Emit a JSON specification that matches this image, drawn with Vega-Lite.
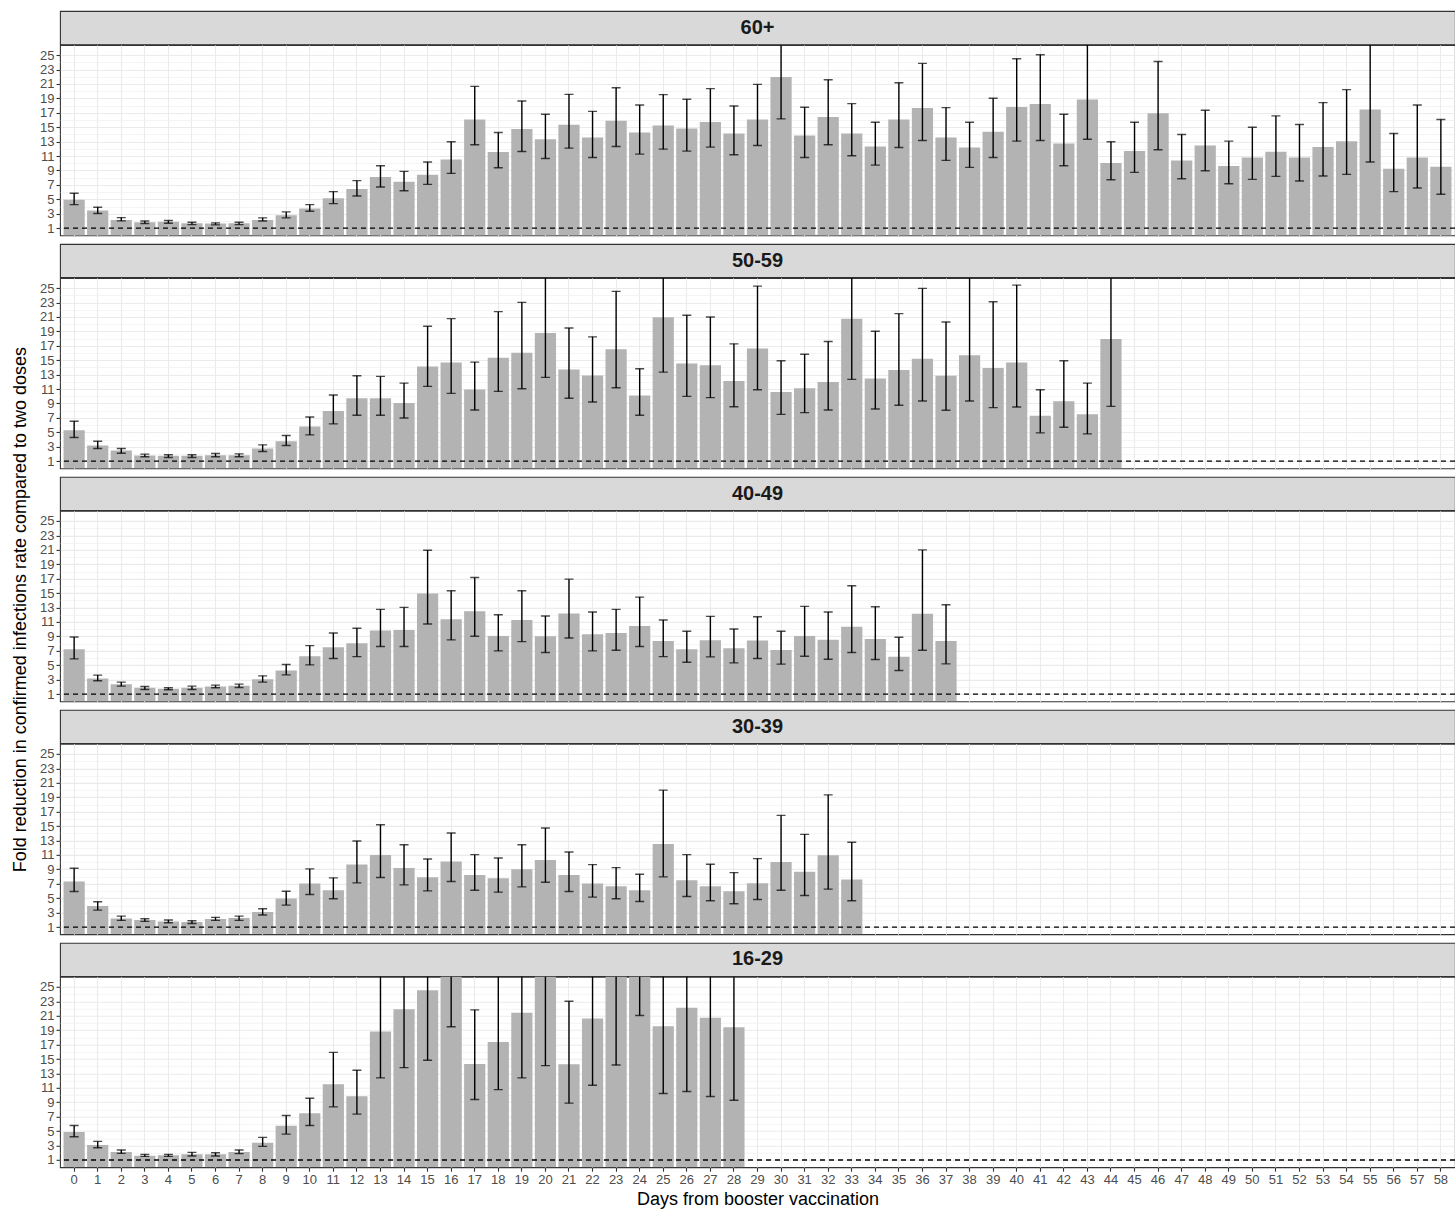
{
"$schema": "https://vega.github.io/schema/vega-lite/v6.json",
"padding": {"left": 11, "top": 10, "right": 0, "bottom": 0},
"spacing": 6.95,
"title": {"text": "Fold reduction in confirmed infections rate compared to two doses", "orient": "left", "anchor": "middle", "fontSize": 18, "fontWeight": "normal", "color": "black", "font": "Liberation Sans", "offset": 9},
"datasets": {
"panels": [{"g":"60+"},{"g":"50-59"},{"g":"40-49"},{"g":"30-39"},{"g":"16-29"}],
"bars": [
{"g":"60+","d":0,"v":4.95,"lo":4.27,"hi":5.84},{"g":"60+","d":1,"v":3.44,"lo":3.03,"hi":3.9},{"g":"60+","d":2,"v":2.15,"lo":2.01,"hi":2.47},{"g":"60+","d":3,"v":1.83,"lo":1.64,"hi":2.0},{"g":"60+","d":4,"v":1.88,"lo":1.69,"hi":2.06},{"g":"60+","d":5,"v":1.69,"lo":1.5,"hi":1.83},{"g":"60+","d":6,"v":1.64,"lo":1.46,"hi":1.74},{"g":"60+","d":7,"v":1.69,"lo":1.5,"hi":1.83},{"g":"60+","d":8,"v":2.15,"lo":2.0,"hi":2.43},{"g":"60+","d":9,"v":2.8,"lo":2.43,"hi":3.26},{"g":"60+","d":10,"v":3.72,"lo":3.35,"hi":4.27},{"g":"60+","d":11,"v":5.15,"lo":4.41,"hi":6.07},{"g":"60+","d":12,"v":6.44,"lo":5.47,"hi":7.59},{"g":"60+","d":13,"v":8.09,"lo":6.71,"hi":9.66},{"g":"60+","d":14,"v":7.45,"lo":6.2,"hi":8.88},{"g":"60+","d":15,"v":8.42,"lo":7.08,"hi":10.17},{"g":"60+","d":16,"v":10.53,"lo":8.6,"hi":12.98},{"g":"60+","d":17,"v":16.06,"lo":12.56,"hi":20.67},{"g":"60+","d":18,"v":11.55,"lo":9.38,"hi":14.27},{"g":"60+","d":19,"v":14.77,"lo":11.64,"hi":18.64},{"g":"60+","d":20,"v":13.34,"lo":10.67,"hi":16.8},{"g":"60+","d":21,"v":15.33,"lo":12.1,"hi":19.56},{"g":"60+","d":22,"v":13.57,"lo":10.81,"hi":17.2},{"g":"60+","d":23,"v":15.88,"lo":12.33,"hi":20.48},{"g":"60+","d":24,"v":14.27,"lo":11.27,"hi":18.09},{"g":"60+","d":25,"v":15.23,"lo":11.96,"hi":19.52},{"g":"60+","d":26,"v":14.82,"lo":11.69,"hi":18.87},{"g":"60+","d":27,"v":15.74,"lo":12.24,"hi":20.35},{"g":"60+","d":28,"v":14.13,"lo":11.18,"hi":17.95},{"g":"60+","d":29,"v":16.06,"lo":12.47,"hi":20.94},{"g":"60+","d":30,"v":21.96,"lo":16.15,"hi":29.9},{"g":"60+","d":31,"v":13.85,"lo":10.81,"hi":17.77},{"g":"60+","d":32,"v":16.43,"lo":12.56,"hi":21.59},{"g":"60+","d":33,"v":14.13,"lo":11.04,"hi":18.27},{"g":"60+","d":34,"v":12.33,"lo":9.75,"hi":15.69},{"g":"60+","d":35,"v":16.06,"lo":12.19,"hi":21.17},{"g":"60+","d":36,"v":17.67,"lo":13.16,"hi":23.85},{"g":"60+","d":37,"v":13.57,"lo":10.4,"hi":17.72},{"g":"60+","d":38,"v":12.19,"lo":9.43,"hi":15.69},{"g":"60+","d":39,"v":14.36,"lo":10.81,"hi":19.01},{"g":"60+","d":40,"v":17.81,"lo":13.07,"hi":24.49},{"g":"60+","d":41,"v":18.23,"lo":13.16,"hi":25.04},{"g":"60+","d":42,"v":12.75,"lo":9.66,"hi":16.8},{"g":"60+","d":43,"v":18.83,"lo":13.34,"hi":27.5},{"g":"60+","d":44,"v":10.03,"lo":7.72,"hi":12.98},{"g":"60+","d":45,"v":11.69,"lo":8.74,"hi":15.69},{"g":"60+","d":46,"v":16.94,"lo":11.87,"hi":24.12},{"g":"60+","d":47,"v":10.4,"lo":7.86,"hi":13.99},{"g":"60+","d":48,"v":12.47,"lo":8.97,"hi":17.35},{"g":"60+","d":49,"v":9.61,"lo":7.17,"hi":13.07},{"g":"60+","d":50,"v":10.81,"lo":7.77,"hi":15.0},{"g":"60+","d":51,"v":11.59,"lo":8.19,"hi":16.57},{"g":"60+","d":52,"v":10.81,"lo":7.54,"hi":15.37},{"g":"60+","d":53,"v":12.24,"lo":8.23,"hi":18.41},{"g":"60+","d":54,"v":13.07,"lo":8.46,"hi":20.21},{"g":"60+","d":55,"v":17.44,"lo":10.17,"hi":29.9},{"g":"60+","d":56,"v":9.24,"lo":6.07,"hi":14.13},{"g":"60+","d":57,"v":10.81,"lo":6.57,"hi":18.09},{"g":"60+","d":58,"v":9.52,"lo":5.7,"hi":16.06},
{"g":"50-59","d":0,"v":5.28,"lo":4.27,"hi":6.53},{"g":"50-59","d":1,"v":3.16,"lo":2.75,"hi":3.76},{"g":"50-59","d":2,"v":2.47,"lo":2.1,"hi":2.75},{"g":"50-59","d":3,"v":1.78,"lo":1.6,"hi":1.97},{"g":"50-59","d":4,"v":1.74,"lo":1.5,"hi":1.88},{"g":"50-59","d":5,"v":1.74,"lo":1.5,"hi":1.88},{"g":"50-59","d":6,"v":1.83,"lo":1.6,"hi":2.06},{"g":"50-59","d":7,"v":1.83,"lo":1.6,"hi":2.01},{"g":"50-59","d":8,"v":2.75,"lo":2.34,"hi":3.26},{"g":"50-59","d":9,"v":3.76,"lo":3.16,"hi":4.55},{"g":"50-59","d":10,"v":5.79,"lo":4.64,"hi":7.13},{"g":"50-59","d":11,"v":7.96,"lo":6.16,"hi":10.17},{"g":"50-59","d":12,"v":9.71,"lo":7.36,"hi":12.84},{"g":"50-59","d":13,"v":9.71,"lo":7.36,"hi":12.75},{"g":"50-59","d":14,"v":9.06,"lo":6.99,"hi":11.82},{"g":"50-59","d":15,"v":14.13,"lo":11.36,"hi":19.7},{"g":"50-59","d":16,"v":14.68,"lo":10.4,"hi":20.76},{"g":"50-59","d":17,"v":10.95,"lo":8.09,"hi":14.73},{"g":"50-59","d":18,"v":15.33,"lo":10.67,"hi":21.73},{"g":"50-59","d":19,"v":16.02,"lo":11.04,"hi":23.02},{"g":"50-59","d":20,"v":18.78,"lo":12.61,"hi":28.0},{"g":"50-59","d":21,"v":13.71,"lo":9.71,"hi":19.47},{"g":"50-59","d":22,"v":12.88,"lo":9.2,"hi":18.23},{"g":"50-59","d":23,"v":16.52,"lo":11.18,"hi":24.54},{"g":"50-59","d":24,"v":10.1,"lo":7.36,"hi":13.8},{"g":"50-59","d":25,"v":20.94,"lo":13.34,"hi":32.9},{"g":"50-59","d":26,"v":14.54,"lo":9.98,"hi":21.22},{"g":"50-59","d":27,"v":14.31,"lo":9.8,"hi":20.99},{"g":"50-59","d":28,"v":12.1,"lo":8.55,"hi":17.26},{"g":"50-59","d":29,"v":16.61,"lo":10.9,"hi":25.27},{"g":"50-59","d":30,"v":10.58,"lo":7.49,"hi":14.91},{"g":"50-59","d":31,"v":11.09,"lo":7.72,"hi":15.83},{"g":"50-59","d":32,"v":11.96,"lo":8.09,"hi":17.58},{"g":"50-59","d":33,"v":20.76,"lo":12.33,"hi":35.0},{"g":"50-59","d":34,"v":12.47,"lo":8.23,"hi":19.01},{"g":"50-59","d":35,"v":13.62,"lo":8.74,"hi":21.45},{"g":"50-59","d":36,"v":15.19,"lo":9.34,"hi":24.95},{"g":"50-59","d":37,"v":12.84,"lo":8.05,"hi":20.3},{"g":"50-59","d":38,"v":15.69,"lo":9.34,"hi":27.0},{"g":"50-59","d":39,"v":13.9,"lo":8.42,"hi":23.11},{"g":"50-59","d":40,"v":14.68,"lo":8.51,"hi":25.41},{"g":"50-59","d":41,"v":7.31,"lo":4.92,"hi":10.9},{"g":"50-59","d":42,"v":9.29,"lo":5.7,"hi":14.91},{"g":"50-59","d":43,"v":7.49,"lo":4.78,"hi":11.82},{"g":"50-59","d":44,"v":17.95,"lo":8.6,"hi":37.5},
{"g":"40-49","d":0,"v":7.22,"lo":5.88,"hi":8.92},{"g":"40-49","d":1,"v":3.16,"lo":2.84,"hi":3.63},{"g":"40-49","d":2,"v":2.38,"lo":2.1,"hi":2.66},{"g":"40-49","d":3,"v":1.88,"lo":1.64,"hi":2.06},{"g":"40-49","d":4,"v":1.74,"lo":1.6,"hi":1.88},{"g":"40-49","d":5,"v":1.88,"lo":1.64,"hi":2.1},{"g":"40-49","d":6,"v":2.06,"lo":1.88,"hi":2.24},{"g":"40-49","d":7,"v":2.15,"lo":1.92,"hi":2.38},{"g":"40-49","d":8,"v":3.07,"lo":2.66,"hi":3.53},{"g":"40-49","d":9,"v":4.27,"lo":3.67,"hi":5.1},{"g":"40-49","d":10,"v":6.25,"lo":5.05,"hi":7.72},{"g":"40-49","d":11,"v":7.49,"lo":5.93,"hi":9.48},{"g":"40-49","d":12,"v":8.05,"lo":6.2,"hi":10.12},{"g":"40-49","d":13,"v":9.8,"lo":7.59,"hi":12.75},{"g":"40-49","d":14,"v":9.89,"lo":7.59,"hi":13.02},{"g":"40-49","d":15,"v":14.96,"lo":10.72,"hi":20.94},{"g":"40-49","d":16,"v":11.36,"lo":8.51,"hi":15.33},{"g":"40-49","d":17,"v":12.47,"lo":9.01,"hi":17.17},{"g":"40-49","d":18,"v":9.06,"lo":6.99,"hi":12.01},{"g":"40-49","d":19,"v":11.27,"lo":8.28,"hi":15.33},{"g":"40-49","d":20,"v":9.01,"lo":6.76,"hi":11.82},{"g":"40-49","d":21,"v":12.19,"lo":8.78,"hi":16.94},{"g":"40-49","d":22,"v":9.29,"lo":6.99,"hi":12.38},{"g":"40-49","d":23,"v":9.48,"lo":7.08,"hi":12.75},{"g":"40-49","d":24,"v":10.44,"lo":7.59,"hi":14.45},{"g":"40-49","d":25,"v":8.37,"lo":6.2,"hi":11.27},{"g":"40-49","d":26,"v":7.22,"lo":5.42,"hi":9.71},{"g":"40-49","d":27,"v":8.46,"lo":6.16,"hi":11.78},{"g":"40-49","d":28,"v":7.36,"lo":5.33,"hi":10.03},{"g":"40-49","d":29,"v":8.42,"lo":5.93,"hi":11.73},{"g":"40-49","d":30,"v":7.13,"lo":5.15,"hi":9.71},{"g":"40-49","d":31,"v":9.06,"lo":6.25,"hi":13.16},{"g":"40-49","d":32,"v":8.55,"lo":5.84,"hi":12.38},{"g":"40-49","d":33,"v":10.35,"lo":6.76,"hi":16.02},{"g":"40-49","d":34,"v":8.65,"lo":5.79,"hi":13.11},{"g":"40-49","d":35,"v":6.16,"lo":4.27,"hi":8.88},{"g":"40-49","d":36,"v":12.15,"lo":7.08,"hi":20.99},{"g":"40-49","d":37,"v":8.37,"lo":5.19,"hi":13.39},
{"g":"30-39","d":0,"v":7.31,"lo":5.93,"hi":9.15},{"g":"30-39","d":1,"v":3.9,"lo":3.35,"hi":4.5},{"g":"30-39","d":2,"v":2.2,"lo":1.92,"hi":2.52},{"g":"30-39","d":3,"v":1.97,"lo":1.78,"hi":2.15},{"g":"30-39","d":4,"v":1.78,"lo":1.6,"hi":1.97},{"g":"30-39","d":5,"v":1.69,"lo":1.5,"hi":1.88},{"g":"30-39","d":6,"v":2.1,"lo":1.92,"hi":2.34},{"g":"30-39","d":7,"v":2.24,"lo":1.92,"hi":2.52},{"g":"30-39","d":8,"v":3.07,"lo":2.66,"hi":3.53},{"g":"30-39","d":9,"v":4.96,"lo":4.04,"hi":5.97},{"g":"30-39","d":10,"v":7.03,"lo":5.51,"hi":9.06},{"g":"30-39","d":11,"v":6.11,"lo":4.92,"hi":7.82},{"g":"30-39","d":12,"v":9.66,"lo":7.13,"hi":12.93},{"g":"30-39","d":13,"v":10.99,"lo":7.86,"hi":15.19},{"g":"30-39","d":14,"v":9.2,"lo":6.85,"hi":12.42},{"g":"30-39","d":15,"v":7.91,"lo":6.02,"hi":10.44},{"g":"30-39","d":16,"v":10.07,"lo":7.31,"hi":14.04},{"g":"30-39","d":17,"v":8.23,"lo":6.11,"hi":11.04},{"g":"30-39","d":18,"v":7.77,"lo":5.84,"hi":10.58},{"g":"30-39","d":19,"v":9.01,"lo":6.57,"hi":12.42},{"g":"30-39","d":20,"v":10.3,"lo":7.22,"hi":14.73},{"g":"30-39","d":21,"v":8.23,"lo":5.93,"hi":11.41},{"g":"30-39","d":22,"v":7.03,"lo":5.15,"hi":9.66},{"g":"30-39","d":23,"v":6.67,"lo":4.92,"hi":9.24},{"g":"30-39","d":24,"v":6.11,"lo":4.55,"hi":8.32},{"g":"30-39","d":25,"v":12.52,"lo":7.96,"hi":19.98},{"g":"30-39","d":26,"v":7.49,"lo":5.24,"hi":11.04},{"g":"30-39","d":27,"v":6.67,"lo":4.64,"hi":9.71},{"g":"30-39","d":28,"v":5.97,"lo":4.22,"hi":8.55},{"g":"30-39","d":29,"v":7.08,"lo":4.82,"hi":10.49},{"g":"30-39","d":30,"v":10.03,"lo":6.11,"hi":16.48},{"g":"30-39","d":31,"v":8.65,"lo":5.38,"hi":13.85},{"g":"30-39","d":32,"v":10.95,"lo":6.25,"hi":19.33},{"g":"30-39","d":33,"v":7.59,"lo":4.64,"hi":12.75},
{"g":"16-29","d":0,"v":4.87,"lo":4.22,"hi":5.79},{"g":"16-29","d":1,"v":3.07,"lo":2.7,"hi":3.58},{"g":"16-29","d":2,"v":2.1,"lo":1.92,"hi":2.38},{"g":"16-29","d":3,"v":1.6,"lo":1.5,"hi":1.78},{"g":"16-29","d":4,"v":1.64,"lo":1.5,"hi":1.78},{"g":"16-29","d":5,"v":1.78,"lo":1.55,"hi":2.06},{"g":"16-29","d":6,"v":1.78,"lo":1.55,"hi":2.01},{"g":"16-29","d":7,"v":2.1,"lo":1.88,"hi":2.38},{"g":"16-29","d":8,"v":3.4,"lo":2.89,"hi":4.13},{"g":"16-29","d":9,"v":5.74,"lo":4.59,"hi":7.17},{"g":"16-29","d":10,"v":7.49,"lo":5.79,"hi":9.57},{"g":"16-29","d":11,"v":11.5,"lo":8.37,"hi":15.92},{"g":"16-29","d":12,"v":9.84,"lo":7.36,"hi":13.44},{"g":"16-29","d":13,"v":18.83,"lo":12.38,"hi":28.6},{"g":"16-29","d":14,"v":21.91,"lo":13.8,"hi":34.8},{"g":"16-29","d":15,"v":24.54,"lo":14.82,"hi":40.6},{"g":"16-29","d":16,"v":28.0,"lo":19.47,"hi":40.0},{"g":"16-29","d":17,"v":14.31,"lo":9.38,"hi":21.82},{"g":"16-29","d":18,"v":17.35,"lo":10.76,"hi":28.0},{"g":"16-29","d":19,"v":21.41,"lo":12.38,"hi":37.0},{"g":"16-29","d":20,"v":27.5,"lo":14.08,"hi":53.0},{"g":"16-29","d":21,"v":14.27,"lo":8.88,"hi":23.02},{"g":"16-29","d":22,"v":20.62,"lo":11.36,"hi":37.4},{"g":"16-29","d":23,"v":28.0,"lo":14.17,"hi":55.0},{"g":"16-29","d":24,"v":30.0,"lo":21.04,"hi":42.0},{"g":"16-29","d":25,"v":19.56,"lo":10.21,"hi":37.5},{"g":"16-29","d":26,"v":22.1,"lo":10.49,"hi":46.5},{"g":"16-29","d":27,"v":20.71,"lo":9.8,"hi":43.8},{"g":"16-29","d":28,"v":19.42,"lo":9.29,"hi":40.6}
]
},
"vconcat": [
{"spacing": 0, "bounds": "flush", "vconcat": [
 {"width": 1395, "height": 33.3, "data": {"name": "panels"}, "transform": [{"filter": "datum.g === '60+'"}], "view": {"fill": "#D9D9D9", "stroke": "#333333", "strokeWidth": 1.1},
  "mark": {"type": "text", "font": "Liberation Sans", "fontSize": 20, "fontWeight": "bold", "color": "#1A1A1A", "align": "center", "baseline": "middle"},
  "encoding": {"text": {"field": "g"}}},
 {"width": 1395, "height": 190.4, "data": {"name": "bars"}, "transform": [{"filter": "datum.g === '60+'"}], "view": {"fill": "white", "stroke": "#333333", "strokeWidth": 1.1},
  "layer": [
   {"mark": {"type": "bar", "color": "#B3B3B3", "clip": true},
    "encoding": {"x": {"field": "d", "type": "ordinal", "scale": {"domain": [0,1,2,3,4,5,6,7,8,9,10,11,12,13,14,15,16,17,18,19,20,21,22,23,24,25,26,27,28,29,30,31,32,33,34,35,36,37,38,39,40,41,42,43,44,45,46,47,48,49,50,51,52,53,54,55,56,57,58], "paddingInner": 0.1, "paddingOuter": 0.15}, "axis": {"title": null, "labels": false, "ticks": false, "grid": true, "bandPosition": 0.5}},
     "y": {"field": "v", "type": "quantitative", "scale": {"domain": [0, 26.4], "nice": false, "zero": false}, "axis": {"title": null, "values": [1,2,3,4,5,6,7,8,9,10,11,12,13,14,15,16,17,18,19,20,21,22,23,24,25], "labelExpr": "datum.value % 2 === 1 ? datum.label : ''", "labelOverlap": false, "grid": true, "gridWidth": {"condition": {"test": "datum.value % 2 === 1", "value": 1.1}, "value": 0.55}, "tickOpacity": {"condition": {"test": "datum.value % 2 === 1", "value": 1}, "value": 0}}}}},
   {"mark": {"type": "rule", "color": "black", "strokeWidth": 1.4, "clip": true},
    "encoding": {"x": {"field": "d", "type": "ordinal", "axis": {"title": null, "labels": false, "ticks": false, "grid": true, "bandPosition": 0.5}},
     "y": {"field": "lo", "type": "quantitative", "axis": {"title": null, "values": [1,2,3,4,5,6,7,8,9,10,11,12,13,14,15,16,17,18,19,20,21,22,23,24,25], "labelExpr": "datum.value % 2 === 1 ? datum.label : ''", "labelOverlap": false, "grid": true, "gridWidth": {"condition": {"test": "datum.value % 2 === 1", "value": 1.1}, "value": 0.55}, "tickOpacity": {"condition": {"test": "datum.value % 2 === 1", "value": 1}, "value": 0}}}, "y2": {"field": "hi"}}},
   {"mark": {"type": "tick", "color": "black", "thickness": 1.4, "size": 9, "clip": true},
    "encoding": {"x": {"field": "d", "type": "ordinal", "axis": {"title": null, "labels": false, "ticks": false, "grid": true, "bandPosition": 0.5}},
     "y": {"field": "lo", "type": "quantitative", "axis": {"title": null, "values": [1,2,3,4,5,6,7,8,9,10,11,12,13,14,15,16,17,18,19,20,21,22,23,24,25], "labelExpr": "datum.value % 2 === 1 ? datum.label : ''", "labelOverlap": false, "grid": true, "gridWidth": {"condition": {"test": "datum.value % 2 === 1", "value": 1.1}, "value": 0.55}, "tickOpacity": {"condition": {"test": "datum.value % 2 === 1", "value": 1}, "value": 0}}}}},
   {"mark": {"type": "tick", "color": "black", "thickness": 1.4, "size": 9, "clip": true},
    "encoding": {"x": {"field": "d", "type": "ordinal", "axis": {"title": null, "labels": false, "ticks": false, "grid": true, "bandPosition": 0.5}},
     "y": {"field": "hi", "type": "quantitative", "axis": {"title": null, "values": [1,2,3,4,5,6,7,8,9,10,11,12,13,14,15,16,17,18,19,20,21,22,23,24,25], "labelExpr": "datum.value % 2 === 1 ? datum.label : ''", "labelOverlap": false, "grid": true, "gridWidth": {"condition": {"test": "datum.value % 2 === 1", "value": 1.1}, "value": 0.55}, "tickOpacity": {"condition": {"test": "datum.value % 2 === 1", "value": 1}, "value": 0}}}}},
   {"data": {"name": "panels"}, "transform": [{"filter": "datum.g === '60+'"}], "mark": {"type": "rule", "color": "black", "strokeWidth": 1.3, "strokeDash": [5, 4]},
    "encoding": {"y": {"datum": 1, "type": "quantitative", "axis": {"title": null, "values": [1,2,3,4,5,6,7,8,9,10,11,12,13,14,15,16,17,18,19,20,21,22,23,24,25], "labelExpr": "datum.value % 2 === 1 ? datum.label : ''", "labelOverlap": false, "grid": true, "gridWidth": {"condition": {"test": "datum.value % 2 === 1", "value": 1.1}, "value": 0.55}, "tickOpacity": {"condition": {"test": "datum.value % 2 === 1", "value": 1}, "value": 0}}}}}
  ]}
]},
{"spacing": 0, "bounds": "flush", "vconcat": [
 {"width": 1395, "height": 33.3, "data": {"name": "panels"}, "transform": [{"filter": "datum.g === '50-59'"}], "view": {"fill": "#D9D9D9", "stroke": "#333333", "strokeWidth": 1.1},
  "mark": {"type": "text", "font": "Liberation Sans", "fontSize": 20, "fontWeight": "bold", "color": "#1A1A1A", "align": "center", "baseline": "middle"},
  "encoding": {"text": {"field": "g"}}},
 {"width": 1395, "height": 190.4, "data": {"name": "bars"}, "transform": [{"filter": "datum.g === '50-59'"}], "view": {"fill": "white", "stroke": "#333333", "strokeWidth": 1.1},
  "layer": [
   {"mark": {"type": "bar", "color": "#B3B3B3", "clip": true},
    "encoding": {"x": {"field": "d", "type": "ordinal", "scale": {"domain": [0,1,2,3,4,5,6,7,8,9,10,11,12,13,14,15,16,17,18,19,20,21,22,23,24,25,26,27,28,29,30,31,32,33,34,35,36,37,38,39,40,41,42,43,44,45,46,47,48,49,50,51,52,53,54,55,56,57,58], "paddingInner": 0.1, "paddingOuter": 0.15}, "axis": {"title": null, "labels": false, "ticks": false, "grid": true, "bandPosition": 0.5}},
     "y": {"field": "v", "type": "quantitative", "scale": {"domain": [0, 26.4], "nice": false, "zero": false}, "axis": {"title": null, "values": [1,2,3,4,5,6,7,8,9,10,11,12,13,14,15,16,17,18,19,20,21,22,23,24,25], "labelExpr": "datum.value % 2 === 1 ? datum.label : ''", "labelOverlap": false, "grid": true, "gridWidth": {"condition": {"test": "datum.value % 2 === 1", "value": 1.1}, "value": 0.55}, "tickOpacity": {"condition": {"test": "datum.value % 2 === 1", "value": 1}, "value": 0}}}}},
   {"mark": {"type": "rule", "color": "black", "strokeWidth": 1.4, "clip": true},
    "encoding": {"x": {"field": "d", "type": "ordinal", "axis": {"title": null, "labels": false, "ticks": false, "grid": true, "bandPosition": 0.5}},
     "y": {"field": "lo", "type": "quantitative", "axis": {"title": null, "values": [1,2,3,4,5,6,7,8,9,10,11,12,13,14,15,16,17,18,19,20,21,22,23,24,25], "labelExpr": "datum.value % 2 === 1 ? datum.label : ''", "labelOverlap": false, "grid": true, "gridWidth": {"condition": {"test": "datum.value % 2 === 1", "value": 1.1}, "value": 0.55}, "tickOpacity": {"condition": {"test": "datum.value % 2 === 1", "value": 1}, "value": 0}}}, "y2": {"field": "hi"}}},
   {"mark": {"type": "tick", "color": "black", "thickness": 1.4, "size": 9, "clip": true},
    "encoding": {"x": {"field": "d", "type": "ordinal", "axis": {"title": null, "labels": false, "ticks": false, "grid": true, "bandPosition": 0.5}},
     "y": {"field": "lo", "type": "quantitative", "axis": {"title": null, "values": [1,2,3,4,5,6,7,8,9,10,11,12,13,14,15,16,17,18,19,20,21,22,23,24,25], "labelExpr": "datum.value % 2 === 1 ? datum.label : ''", "labelOverlap": false, "grid": true, "gridWidth": {"condition": {"test": "datum.value % 2 === 1", "value": 1.1}, "value": 0.55}, "tickOpacity": {"condition": {"test": "datum.value % 2 === 1", "value": 1}, "value": 0}}}}},
   {"mark": {"type": "tick", "color": "black", "thickness": 1.4, "size": 9, "clip": true},
    "encoding": {"x": {"field": "d", "type": "ordinal", "axis": {"title": null, "labels": false, "ticks": false, "grid": true, "bandPosition": 0.5}},
     "y": {"field": "hi", "type": "quantitative", "axis": {"title": null, "values": [1,2,3,4,5,6,7,8,9,10,11,12,13,14,15,16,17,18,19,20,21,22,23,24,25], "labelExpr": "datum.value % 2 === 1 ? datum.label : ''", "labelOverlap": false, "grid": true, "gridWidth": {"condition": {"test": "datum.value % 2 === 1", "value": 1.1}, "value": 0.55}, "tickOpacity": {"condition": {"test": "datum.value % 2 === 1", "value": 1}, "value": 0}}}}},
   {"data": {"name": "panels"}, "transform": [{"filter": "datum.g === '50-59'"}], "mark": {"type": "rule", "color": "black", "strokeWidth": 1.3, "strokeDash": [5, 4]},
    "encoding": {"y": {"datum": 1, "type": "quantitative", "axis": {"title": null, "values": [1,2,3,4,5,6,7,8,9,10,11,12,13,14,15,16,17,18,19,20,21,22,23,24,25], "labelExpr": "datum.value % 2 === 1 ? datum.label : ''", "labelOverlap": false, "grid": true, "gridWidth": {"condition": {"test": "datum.value % 2 === 1", "value": 1.1}, "value": 0.55}, "tickOpacity": {"condition": {"test": "datum.value % 2 === 1", "value": 1}, "value": 0}}}}}
  ]}
]},
{"spacing": 0, "bounds": "flush", "vconcat": [
 {"width": 1395, "height": 33.3, "data": {"name": "panels"}, "transform": [{"filter": "datum.g === '40-49'"}], "view": {"fill": "#D9D9D9", "stroke": "#333333", "strokeWidth": 1.1},
  "mark": {"type": "text", "font": "Liberation Sans", "fontSize": 20, "fontWeight": "bold", "color": "#1A1A1A", "align": "center", "baseline": "middle"},
  "encoding": {"text": {"field": "g"}}},
 {"width": 1395, "height": 190.4, "data": {"name": "bars"}, "transform": [{"filter": "datum.g === '40-49'"}], "view": {"fill": "white", "stroke": "#333333", "strokeWidth": 1.1},
  "layer": [
   {"mark": {"type": "bar", "color": "#B3B3B3", "clip": true},
    "encoding": {"x": {"field": "d", "type": "ordinal", "scale": {"domain": [0,1,2,3,4,5,6,7,8,9,10,11,12,13,14,15,16,17,18,19,20,21,22,23,24,25,26,27,28,29,30,31,32,33,34,35,36,37,38,39,40,41,42,43,44,45,46,47,48,49,50,51,52,53,54,55,56,57,58], "paddingInner": 0.1, "paddingOuter": 0.15}, "axis": {"title": null, "labels": false, "ticks": false, "grid": true, "bandPosition": 0.5}},
     "y": {"field": "v", "type": "quantitative", "scale": {"domain": [0, 26.4], "nice": false, "zero": false}, "axis": {"title": null, "values": [1,2,3,4,5,6,7,8,9,10,11,12,13,14,15,16,17,18,19,20,21,22,23,24,25], "labelExpr": "datum.value % 2 === 1 ? datum.label : ''", "labelOverlap": false, "grid": true, "gridWidth": {"condition": {"test": "datum.value % 2 === 1", "value": 1.1}, "value": 0.55}, "tickOpacity": {"condition": {"test": "datum.value % 2 === 1", "value": 1}, "value": 0}}}}},
   {"mark": {"type": "rule", "color": "black", "strokeWidth": 1.4, "clip": true},
    "encoding": {"x": {"field": "d", "type": "ordinal", "axis": {"title": null, "labels": false, "ticks": false, "grid": true, "bandPosition": 0.5}},
     "y": {"field": "lo", "type": "quantitative", "axis": {"title": null, "values": [1,2,3,4,5,6,7,8,9,10,11,12,13,14,15,16,17,18,19,20,21,22,23,24,25], "labelExpr": "datum.value % 2 === 1 ? datum.label : ''", "labelOverlap": false, "grid": true, "gridWidth": {"condition": {"test": "datum.value % 2 === 1", "value": 1.1}, "value": 0.55}, "tickOpacity": {"condition": {"test": "datum.value % 2 === 1", "value": 1}, "value": 0}}}, "y2": {"field": "hi"}}},
   {"mark": {"type": "tick", "color": "black", "thickness": 1.4, "size": 9, "clip": true},
    "encoding": {"x": {"field": "d", "type": "ordinal", "axis": {"title": null, "labels": false, "ticks": false, "grid": true, "bandPosition": 0.5}},
     "y": {"field": "lo", "type": "quantitative", "axis": {"title": null, "values": [1,2,3,4,5,6,7,8,9,10,11,12,13,14,15,16,17,18,19,20,21,22,23,24,25], "labelExpr": "datum.value % 2 === 1 ? datum.label : ''", "labelOverlap": false, "grid": true, "gridWidth": {"condition": {"test": "datum.value % 2 === 1", "value": 1.1}, "value": 0.55}, "tickOpacity": {"condition": {"test": "datum.value % 2 === 1", "value": 1}, "value": 0}}}}},
   {"mark": {"type": "tick", "color": "black", "thickness": 1.4, "size": 9, "clip": true},
    "encoding": {"x": {"field": "d", "type": "ordinal", "axis": {"title": null, "labels": false, "ticks": false, "grid": true, "bandPosition": 0.5}},
     "y": {"field": "hi", "type": "quantitative", "axis": {"title": null, "values": [1,2,3,4,5,6,7,8,9,10,11,12,13,14,15,16,17,18,19,20,21,22,23,24,25], "labelExpr": "datum.value % 2 === 1 ? datum.label : ''", "labelOverlap": false, "grid": true, "gridWidth": {"condition": {"test": "datum.value % 2 === 1", "value": 1.1}, "value": 0.55}, "tickOpacity": {"condition": {"test": "datum.value % 2 === 1", "value": 1}, "value": 0}}}}},
   {"data": {"name": "panels"}, "transform": [{"filter": "datum.g === '40-49'"}], "mark": {"type": "rule", "color": "black", "strokeWidth": 1.3, "strokeDash": [5, 4]},
    "encoding": {"y": {"datum": 1, "type": "quantitative", "axis": {"title": null, "values": [1,2,3,4,5,6,7,8,9,10,11,12,13,14,15,16,17,18,19,20,21,22,23,24,25], "labelExpr": "datum.value % 2 === 1 ? datum.label : ''", "labelOverlap": false, "grid": true, "gridWidth": {"condition": {"test": "datum.value % 2 === 1", "value": 1.1}, "value": 0.55}, "tickOpacity": {"condition": {"test": "datum.value % 2 === 1", "value": 1}, "value": 0}}}}}
  ]}
]},
{"spacing": 0, "bounds": "flush", "vconcat": [
 {"width": 1395, "height": 33.3, "data": {"name": "panels"}, "transform": [{"filter": "datum.g === '30-39'"}], "view": {"fill": "#D9D9D9", "stroke": "#333333", "strokeWidth": 1.1},
  "mark": {"type": "text", "font": "Liberation Sans", "fontSize": 20, "fontWeight": "bold", "color": "#1A1A1A", "align": "center", "baseline": "middle"},
  "encoding": {"text": {"field": "g"}}},
 {"width": 1395, "height": 190.4, "data": {"name": "bars"}, "transform": [{"filter": "datum.g === '30-39'"}], "view": {"fill": "white", "stroke": "#333333", "strokeWidth": 1.1},
  "layer": [
   {"mark": {"type": "bar", "color": "#B3B3B3", "clip": true},
    "encoding": {"x": {"field": "d", "type": "ordinal", "scale": {"domain": [0,1,2,3,4,5,6,7,8,9,10,11,12,13,14,15,16,17,18,19,20,21,22,23,24,25,26,27,28,29,30,31,32,33,34,35,36,37,38,39,40,41,42,43,44,45,46,47,48,49,50,51,52,53,54,55,56,57,58], "paddingInner": 0.1, "paddingOuter": 0.15}, "axis": {"title": null, "labels": false, "ticks": false, "grid": true, "bandPosition": 0.5}},
     "y": {"field": "v", "type": "quantitative", "scale": {"domain": [0, 26.4], "nice": false, "zero": false}, "axis": {"title": null, "values": [1,2,3,4,5,6,7,8,9,10,11,12,13,14,15,16,17,18,19,20,21,22,23,24,25], "labelExpr": "datum.value % 2 === 1 ? datum.label : ''", "labelOverlap": false, "grid": true, "gridWidth": {"condition": {"test": "datum.value % 2 === 1", "value": 1.1}, "value": 0.55}, "tickOpacity": {"condition": {"test": "datum.value % 2 === 1", "value": 1}, "value": 0}}}}},
   {"mark": {"type": "rule", "color": "black", "strokeWidth": 1.4, "clip": true},
    "encoding": {"x": {"field": "d", "type": "ordinal", "axis": {"title": null, "labels": false, "ticks": false, "grid": true, "bandPosition": 0.5}},
     "y": {"field": "lo", "type": "quantitative", "axis": {"title": null, "values": [1,2,3,4,5,6,7,8,9,10,11,12,13,14,15,16,17,18,19,20,21,22,23,24,25], "labelExpr": "datum.value % 2 === 1 ? datum.label : ''", "labelOverlap": false, "grid": true, "gridWidth": {"condition": {"test": "datum.value % 2 === 1", "value": 1.1}, "value": 0.55}, "tickOpacity": {"condition": {"test": "datum.value % 2 === 1", "value": 1}, "value": 0}}}, "y2": {"field": "hi"}}},
   {"mark": {"type": "tick", "color": "black", "thickness": 1.4, "size": 9, "clip": true},
    "encoding": {"x": {"field": "d", "type": "ordinal", "axis": {"title": null, "labels": false, "ticks": false, "grid": true, "bandPosition": 0.5}},
     "y": {"field": "lo", "type": "quantitative", "axis": {"title": null, "values": [1,2,3,4,5,6,7,8,9,10,11,12,13,14,15,16,17,18,19,20,21,22,23,24,25], "labelExpr": "datum.value % 2 === 1 ? datum.label : ''", "labelOverlap": false, "grid": true, "gridWidth": {"condition": {"test": "datum.value % 2 === 1", "value": 1.1}, "value": 0.55}, "tickOpacity": {"condition": {"test": "datum.value % 2 === 1", "value": 1}, "value": 0}}}}},
   {"mark": {"type": "tick", "color": "black", "thickness": 1.4, "size": 9, "clip": true},
    "encoding": {"x": {"field": "d", "type": "ordinal", "axis": {"title": null, "labels": false, "ticks": false, "grid": true, "bandPosition": 0.5}},
     "y": {"field": "hi", "type": "quantitative", "axis": {"title": null, "values": [1,2,3,4,5,6,7,8,9,10,11,12,13,14,15,16,17,18,19,20,21,22,23,24,25], "labelExpr": "datum.value % 2 === 1 ? datum.label : ''", "labelOverlap": false, "grid": true, "gridWidth": {"condition": {"test": "datum.value % 2 === 1", "value": 1.1}, "value": 0.55}, "tickOpacity": {"condition": {"test": "datum.value % 2 === 1", "value": 1}, "value": 0}}}}},
   {"data": {"name": "panels"}, "transform": [{"filter": "datum.g === '30-39'"}], "mark": {"type": "rule", "color": "black", "strokeWidth": 1.3, "strokeDash": [5, 4]},
    "encoding": {"y": {"datum": 1, "type": "quantitative", "axis": {"title": null, "values": [1,2,3,4,5,6,7,8,9,10,11,12,13,14,15,16,17,18,19,20,21,22,23,24,25], "labelExpr": "datum.value % 2 === 1 ? datum.label : ''", "labelOverlap": false, "grid": true, "gridWidth": {"condition": {"test": "datum.value % 2 === 1", "value": 1.1}, "value": 0.55}, "tickOpacity": {"condition": {"test": "datum.value % 2 === 1", "value": 1}, "value": 0}}}}}
  ]}
]},
{"spacing": 0, "bounds": "flush", "vconcat": [
 {"width": 1395, "height": 33.3, "data": {"name": "panels"}, "transform": [{"filter": "datum.g === '16-29'"}], "view": {"fill": "#D9D9D9", "stroke": "#333333", "strokeWidth": 1.1},
  "mark": {"type": "text", "font": "Liberation Sans", "fontSize": 20, "fontWeight": "bold", "color": "#1A1A1A", "align": "center", "baseline": "middle"},
  "encoding": {"text": {"field": "g"}}},
 {"width": 1395, "height": 190.4, "data": {"name": "bars"}, "transform": [{"filter": "datum.g === '16-29'"}], "view": {"fill": "white", "stroke": "#333333", "strokeWidth": 1.1},
  "layer": [
   {"mark": {"type": "bar", "color": "#B3B3B3", "clip": true},
    "encoding": {"x": {"field": "d", "type": "ordinal", "scale": {"domain": [0,1,2,3,4,5,6,7,8,9,10,11,12,13,14,15,16,17,18,19,20,21,22,23,24,25,26,27,28,29,30,31,32,33,34,35,36,37,38,39,40,41,42,43,44,45,46,47,48,49,50,51,52,53,54,55,56,57,58], "paddingInner": 0.1, "paddingOuter": 0.15}, "axis": {"title": "Days from booster vaccination", "titlePadding": 4, "labelAngle": 0, "labelOverlap": false, "grid": true, "bandPosition": 0.5}},
     "y": {"field": "v", "type": "quantitative", "scale": {"domain": [0, 26.4], "nice": false, "zero": false}, "axis": {"title": null, "values": [1,2,3,4,5,6,7,8,9,10,11,12,13,14,15,16,17,18,19,20,21,22,23,24,25], "labelExpr": "datum.value % 2 === 1 ? datum.label : ''", "labelOverlap": false, "grid": true, "gridWidth": {"condition": {"test": "datum.value % 2 === 1", "value": 1.1}, "value": 0.55}, "tickOpacity": {"condition": {"test": "datum.value % 2 === 1", "value": 1}, "value": 0}}}}},
   {"mark": {"type": "rule", "color": "black", "strokeWidth": 1.4, "clip": true},
    "encoding": {"x": {"field": "d", "type": "ordinal", "axis": {"title": "Days from booster vaccination", "titlePadding": 4, "labelAngle": 0, "labelOverlap": false, "grid": true, "bandPosition": 0.5}},
     "y": {"field": "lo", "type": "quantitative", "axis": {"title": null, "values": [1,2,3,4,5,6,7,8,9,10,11,12,13,14,15,16,17,18,19,20,21,22,23,24,25], "labelExpr": "datum.value % 2 === 1 ? datum.label : ''", "labelOverlap": false, "grid": true, "gridWidth": {"condition": {"test": "datum.value % 2 === 1", "value": 1.1}, "value": 0.55}, "tickOpacity": {"condition": {"test": "datum.value % 2 === 1", "value": 1}, "value": 0}}}, "y2": {"field": "hi"}}},
   {"mark": {"type": "tick", "color": "black", "thickness": 1.4, "size": 9, "clip": true},
    "encoding": {"x": {"field": "d", "type": "ordinal", "axis": {"title": "Days from booster vaccination", "titlePadding": 4, "labelAngle": 0, "labelOverlap": false, "grid": true, "bandPosition": 0.5}},
     "y": {"field": "lo", "type": "quantitative", "axis": {"title": null, "values": [1,2,3,4,5,6,7,8,9,10,11,12,13,14,15,16,17,18,19,20,21,22,23,24,25], "labelExpr": "datum.value % 2 === 1 ? datum.label : ''", "labelOverlap": false, "grid": true, "gridWidth": {"condition": {"test": "datum.value % 2 === 1", "value": 1.1}, "value": 0.55}, "tickOpacity": {"condition": {"test": "datum.value % 2 === 1", "value": 1}, "value": 0}}}}},
   {"mark": {"type": "tick", "color": "black", "thickness": 1.4, "size": 9, "clip": true},
    "encoding": {"x": {"field": "d", "type": "ordinal", "axis": {"title": "Days from booster vaccination", "titlePadding": 4, "labelAngle": 0, "labelOverlap": false, "grid": true, "bandPosition": 0.5}},
     "y": {"field": "hi", "type": "quantitative", "axis": {"title": null, "values": [1,2,3,4,5,6,7,8,9,10,11,12,13,14,15,16,17,18,19,20,21,22,23,24,25], "labelExpr": "datum.value % 2 === 1 ? datum.label : ''", "labelOverlap": false, "grid": true, "gridWidth": {"condition": {"test": "datum.value % 2 === 1", "value": 1.1}, "value": 0.55}, "tickOpacity": {"condition": {"test": "datum.value % 2 === 1", "value": 1}, "value": 0}}}}},
   {"data": {"name": "panels"}, "transform": [{"filter": "datum.g === '16-29'"}], "mark": {"type": "rule", "color": "black", "strokeWidth": 1.3, "strokeDash": [5, 4]},
    "encoding": {"y": {"datum": 1, "type": "quantitative", "axis": {"title": null, "values": [1,2,3,4,5,6,7,8,9,10,11,12,13,14,15,16,17,18,19,20,21,22,23,24,25], "labelExpr": "datum.value % 2 === 1 ? datum.label : ''", "labelOverlap": false, "grid": true, "gridWidth": {"condition": {"test": "datum.value % 2 === 1", "value": 1.1}, "value": 0.55}, "tickOpacity": {"condition": {"test": "datum.value % 2 === 1", "value": 1}, "value": 0}}}}}
  ]}
]}
],
"config": {"font": "Liberation Sans", "background": "white",
 "axis": {"domain": false, "gridColor": "#EBEBEB", "labelColor": "#4D4D4D", "labelFontSize": 13, "labelFont": "Liberation Sans", "labelPadding": 2, "tickSize": 4, "tickColor": "#333333", "tickWidth": 1.1, "titleFontSize": 18, "titleFontWeight": "normal", "titleColor": "black", "titleFont": "Liberation Sans"},
 "axisX": {"gridWidth": 1.1}}
}
